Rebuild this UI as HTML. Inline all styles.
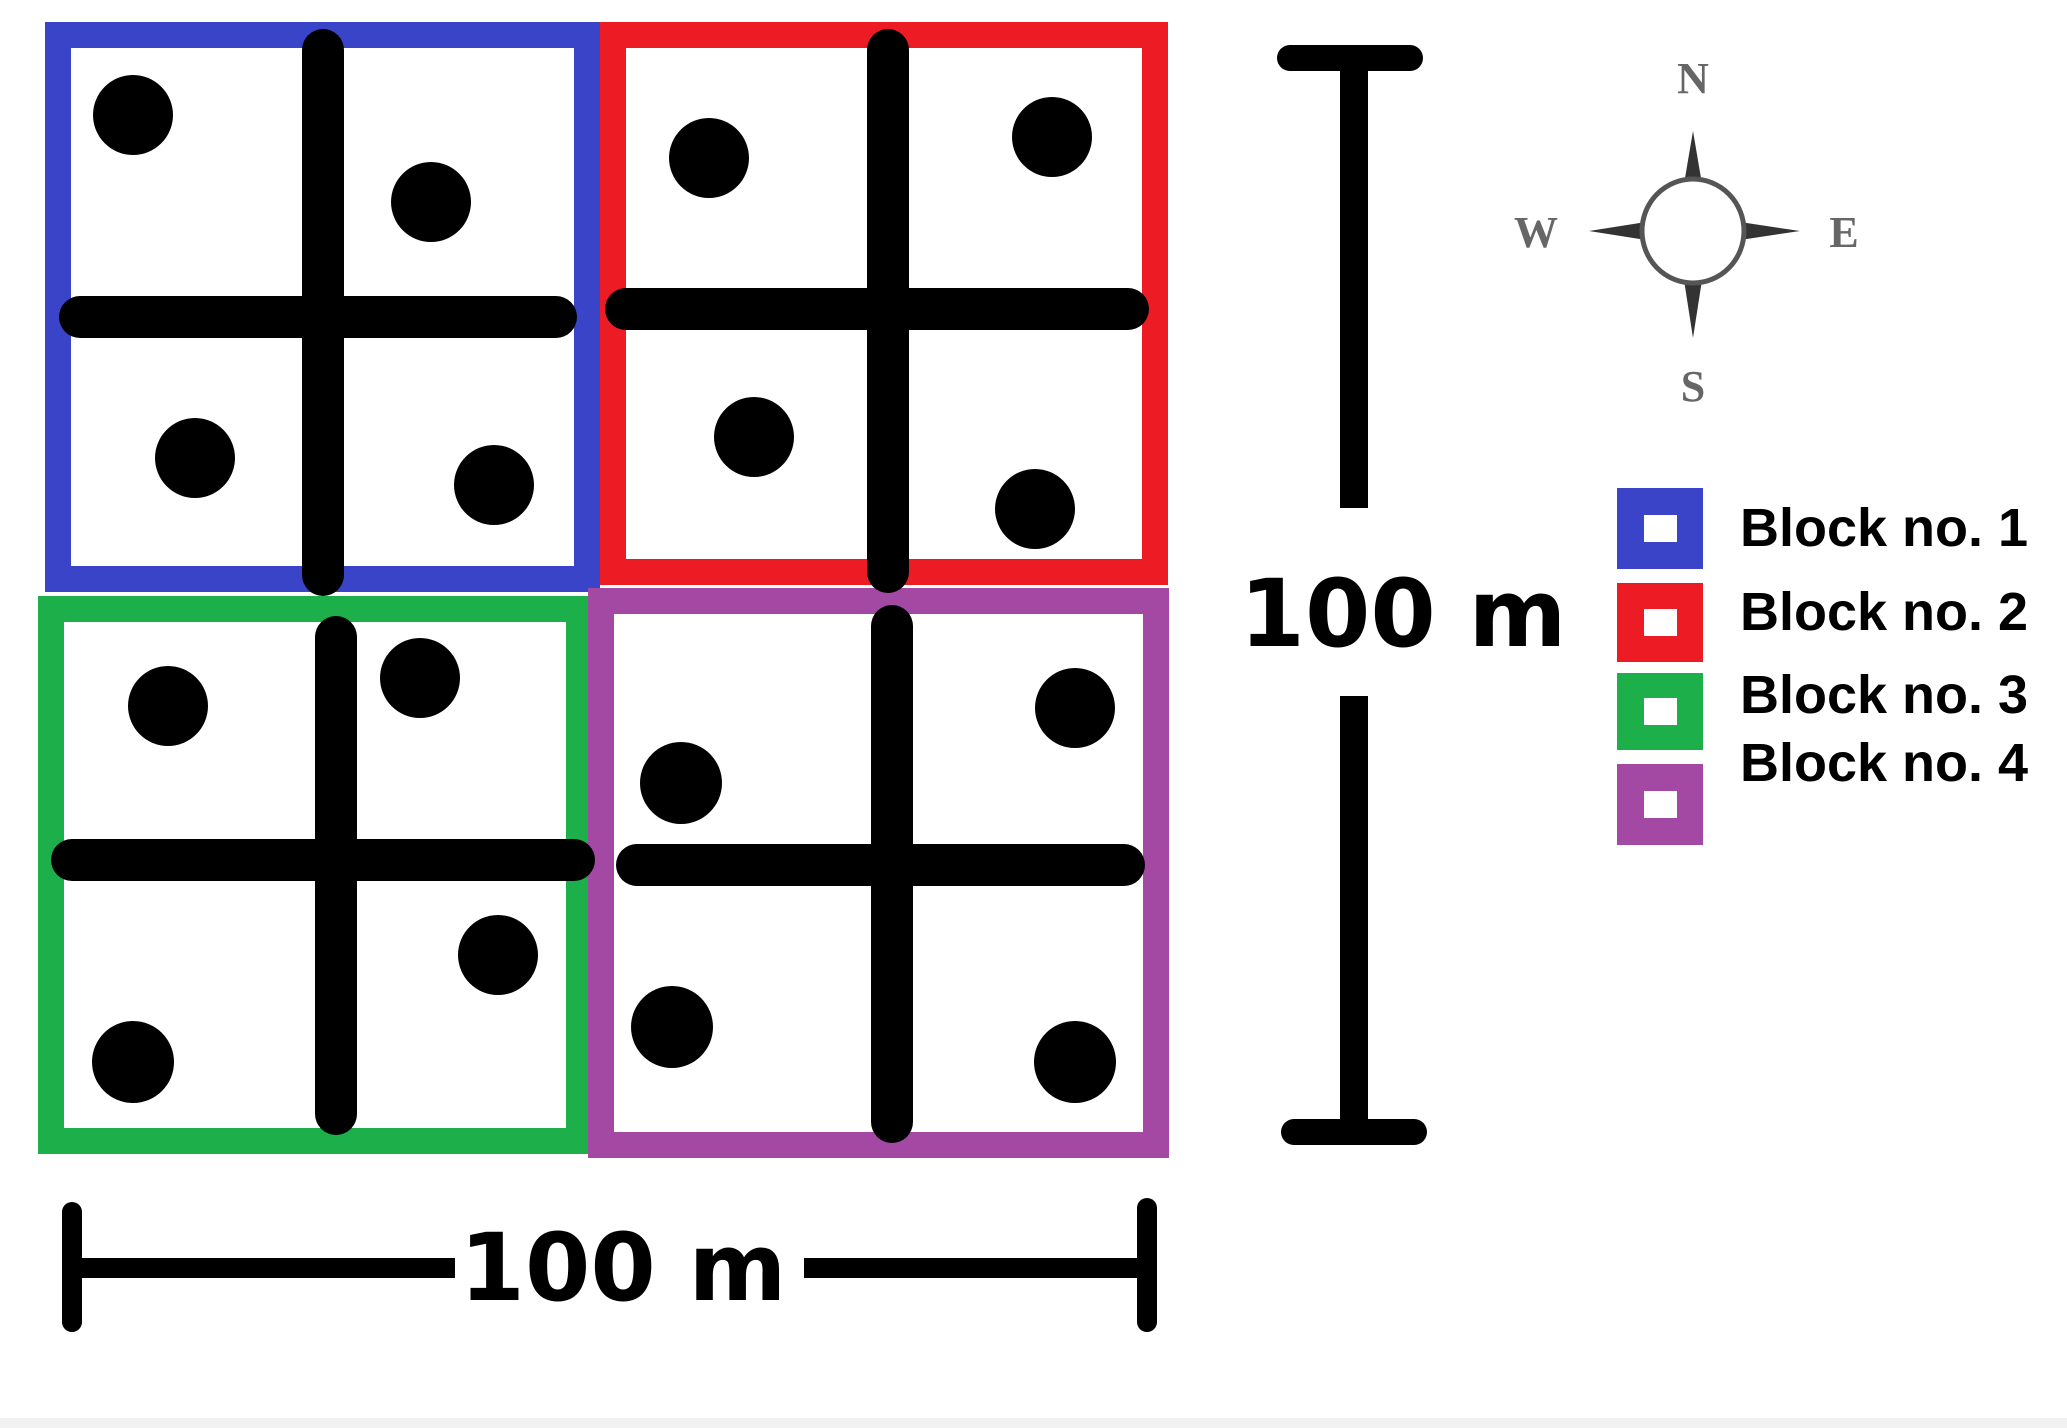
<!DOCTYPE html>
<html><head><meta charset="utf-8"><style>
html,body{margin:0;padding:0;background:#fff;}
svg{display:block;}
</style></head><body>
<svg width="2067" height="1428" viewBox="0 0 2067 1428" xmlns="http://www.w3.org/2000/svg">
<rect width="2067" height="1428" fill="#fff"/>
<rect x="0" y="1418" width="2067" height="10" fill="#f2f2f2"/>
<g fill="none" stroke-width="26">
<rect x="58" y="35" width="529" height="544" stroke="#3a44c8"/>
<rect x="613" y="35" width="542" height="537" stroke="#ed1c24"/>
<rect x="51" y="609" width="528" height="532" stroke="#1db04a"/>
<rect x="601" y="601" width="555" height="544" stroke="#a349a4"/>
</g>
<g stroke="#000" stroke-width="42" stroke-linecap="round">
<line x1="323" y1="50" x2="323" y2="575"/><line x1="80" y1="317" x2="556" y2="317"/>
<line x1="888" y1="50" x2="888" y2="572"/><line x1="626" y1="309" x2="1128" y2="309"/>
<line x1="336" y1="637" x2="336" y2="1114"/><line x1="72" y1="860" x2="574" y2="860"/>
<line x1="892" y1="626" x2="892" y2="1122"/><line x1="637" y1="865" x2="1124" y2="865"/>
</g>
<g fill="#000">
<circle cx="133" cy="115" r="40"/><circle cx="431" cy="202" r="40"/><circle cx="195" cy="458" r="40"/><circle cx="494" cy="485" r="40"/>
<circle cx="709" cy="158" r="40"/><circle cx="1052" cy="137" r="40"/><circle cx="754" cy="437" r="40"/><circle cx="1035" cy="509" r="40"/>
<circle cx="168" cy="706" r="40"/><circle cx="420" cy="678" r="40"/><circle cx="498" cy="955" r="40"/><circle cx="133" cy="1062" r="41"/>
<circle cx="1075" cy="708" r="40"/><circle cx="681" cy="783" r="41"/><circle cx="672" cy="1027" r="41"/><circle cx="1075" cy="1062" r="41"/>
</g>
<!-- vertical scale -->
<g stroke="#000" stroke-linecap="round">
<line x1="1354" y1="58" x2="1354" y2="508" stroke-width="28" stroke-linecap="butt"/>
<line x1="1290" y1="58" x2="1410" y2="58" stroke-width="26"/>
<line x1="1354" y1="696" x2="1354" y2="1130" stroke-width="28" stroke-linecap="butt"/>
<line x1="1294" y1="1132" x2="1414" y2="1132" stroke-width="26"/>
</g>
<text x="1403" y="646" font-family="DejaVu Sans, sans-serif" font-weight="bold" font-size="94" text-anchor="middle" fill="#000">100 m</text>
<!-- horizontal scale -->
<g stroke="#000" stroke-linecap="round" stroke-width="20">
<line x1="72" y1="1212" x2="72" y2="1322"/>
<line x1="1147" y1="1208" x2="1147" y2="1322"/>
<line x1="72" y1="1268" x2="455" y2="1268" stroke-linecap="butt"/>
<line x1="804" y1="1268" x2="1147" y2="1268" stroke-linecap="butt"/>
</g>
<text x="623" y="1300" font-family="DejaVu Sans, sans-serif" font-weight="bold" font-size="94" text-anchor="middle" fill="#000">100 m</text>
<!-- compass -->
<g fill="#333">
<polygon points="1693,131 1684,184 1702,184"/>
<polygon points="1693,338 1684,280 1702,280"/>
<polygon points="1589,231 1646,222 1646,240"/>
<polygon points="1800,231 1740,222 1740,240"/>
</g>
<ellipse cx="1693" cy="231" rx="51" ry="52" fill="#fff" stroke="#555" stroke-width="5"/>
<g font-family="Liberation Serif, serif" font-weight="bold" font-size="44" fill="#666" text-anchor="middle">
<text x="1693" y="93">N</text><text x="1693" y="401">S</text><text x="1536" y="247">W</text><text x="1844" y="247">E</text>
</g>
<!-- legend -->
<rect x="1617" y="488" width="86" height="81" fill="#3a44c8"/><rect x="1644" y="515" width="33" height="27" fill="#fff"/>
<rect x="1617" y="583" width="86" height="79" fill="#ed1c24"/><rect x="1644" y="609" width="33" height="27" fill="#fff"/>
<rect x="1617" y="673" width="86" height="77" fill="#1db04a"/><rect x="1644" y="698" width="33" height="27" fill="#fff"/>
<rect x="1617" y="764" width="86" height="81" fill="#a349a4"/><rect x="1644" y="791" width="33" height="27" fill="#fff"/>
<g font-family="Liberation Sans, sans-serif" font-weight="bold" font-size="54" fill="#000">
<text x="1740" y="546">Block no. 1</text>
<text x="1740" y="630">Block no. 2</text>
<text x="1740" y="713">Block no. 3</text>
<text x="1740" y="781">Block no. 4</text>
</g>
</svg>
</body></html>
